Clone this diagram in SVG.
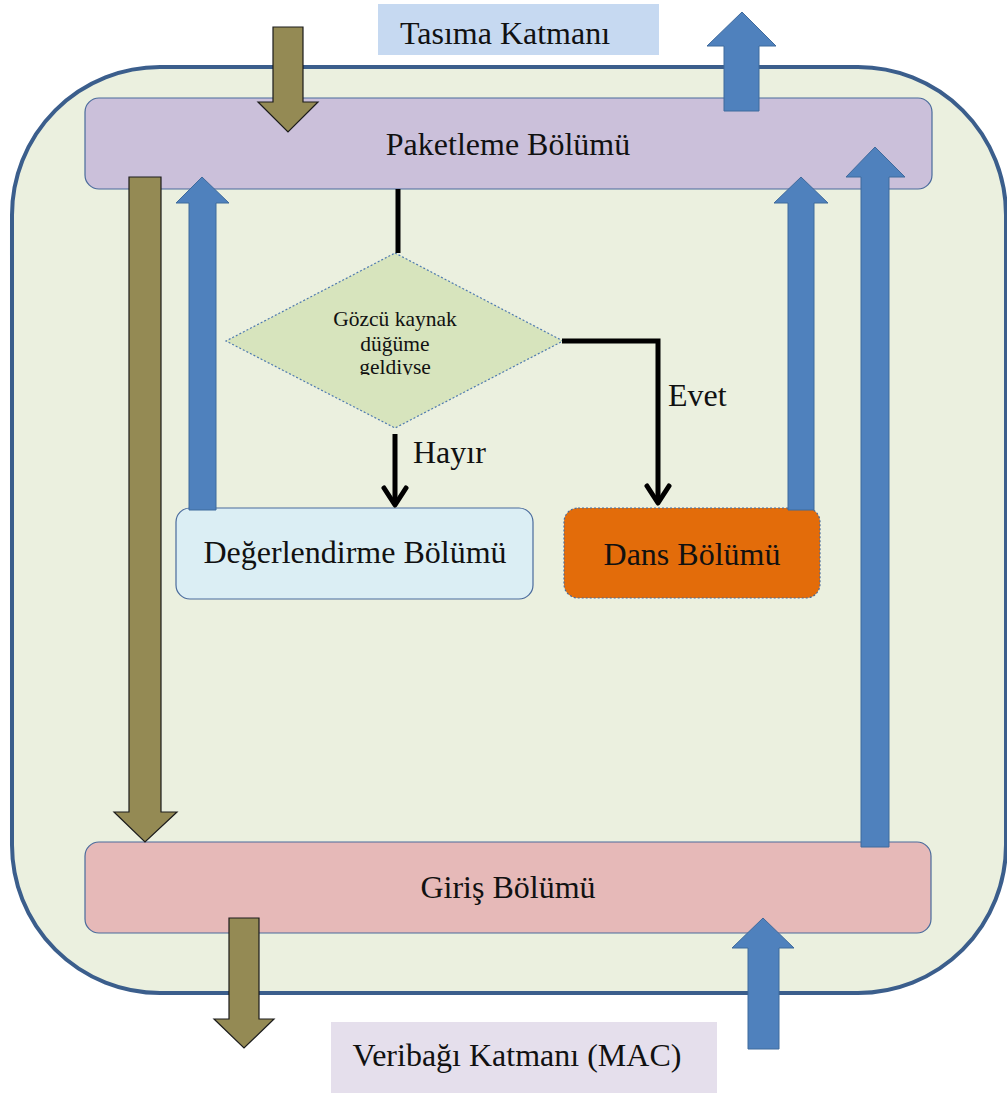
<svg xmlns="http://www.w3.org/2000/svg" width="1007" height="1093" viewBox="0 0 1007 1093">
  <style>
    text { font-family: "Liberation Serif", "Times New Roman", serif; fill: #111; }
    .big { font-size: 32px; }
    .small { font-size: 21.5px; }
    .mid { text-anchor: middle; }
    .brown { fill: #948A54; stroke: #1c1c1c; stroke-width: 1.2; stroke-linejoin: miter; }
    .blue { fill: #4F81BD; stroke: #3F6A9C; stroke-width: 1; }
    .line { fill: none; stroke: #000; stroke-width: 5; stroke-linejoin: miter; }
    .head { fill: none; stroke: #000; stroke-width: 5; stroke-linecap: round; stroke-linejoin: round; }
  </style>
  <defs>
    <clipPath id="diamondText">
      <rect x="300" y="290" width="200" height="85"/>
    </clipPath>
  </defs>

  <rect width="1007" height="1093" fill="#ffffff"/>

  <!-- outer module frame -->
  <g id="module">
    <rect x="12" y="67" width="994" height="926" rx="148" ry="148" fill="#EBF0DF" stroke="#3B5E8C" stroke-width="4"/>
  </g>

  <!-- upper and lower layer labels -->
  <g id="transport-layer">
    <rect x="378" y="4" width="281" height="51" fill="#C6D9F1"/>
    <text class="big mid" x="505" y="44">Tasıma Katmanı</text>
  </g>
  <g id="link-layer">
    <rect x="331" y="1022" width="386" height="71" fill="#E5DFEC"/>
    <text class="big mid" x="517" y="1066">Veribağı Katmanı (MAC)</text>
  </g>

  <!-- sections -->
  <g id="packaging">
    <rect x="85" y="98" width="847" height="91" rx="14" fill="#CBC0DA" stroke="#4A6B9C" stroke-width="1.2"/>
    <text class="big mid" x="508" y="155">Paketleme Bölümü</text>
  </g>
  <g id="input">
    <rect x="85" y="842" width="846" height="91" rx="14" fill="#E6B9B8" stroke="#4A6B9C" stroke-width="1.2"/>
    <text class="big mid" x="508" y="898">Giriş Bölümü</text>
  </g>
  <g id="decision">
    <polygon points="395,253 563,341 395,428 226,341" fill="#D7E4BD" stroke="#4F7AB0" stroke-width="1.2" stroke-dasharray="2,2"/>
    <g clip-path="url(#diamondText)">
      <text class="small mid" x="395" y="326">Gözcü kaynak</text>
      <text class="small mid" x="395" y="351">düğüme</text>
      <text class="small mid" x="395" y="374">geldiyse</text>
    </g>
  </g>
  <g id="evaluation">
    <rect x="176" y="508" width="357" height="91" rx="14" fill="#DBEEF4" stroke="#4A6B9C" stroke-width="1.2"/>
    <text class="big mid" x="355" y="563">Değerlendirme Bölümü</text>
  </g>
  <g id="dance">
    <rect x="564" y="508" width="256" height="90" rx="14" fill="#E36C0A" stroke="#4A6B9C" stroke-width="1.2" stroke-dasharray="2,2"/>
    <text class="big mid" x="692" y="565">Dans Bölümü</text>
  </g>

  <!-- connectors -->
  <g id="connectors">
    <!-- packaging to decision -->
    <line class="line" x1="398" y1="189" x2="398" y2="253"/>
    <!-- decision: yes -->
    <polyline class="line" points="562,341 658,341 658,503"/>
    <polyline class="head" points="647,486 658,503 669,486"/>
    <text class="big" x="668" y="406">Evet</text>
    <!-- decision: no -->
    <line class="line" x1="395" y1="434" x2="395" y2="505"/>
    <polyline class="head" points="384,488 395,505 406,488"/>
    <text class="big" x="413" y="463">Hayır</text>

    <!-- transport layer into packaging -->
    <polygon class="brown" points="273,27 303,27 303,102 318,102 288,132 258,102 273,102"/>
    <!-- packaging up to transport layer -->
    <polygon class="blue" points="724,111 759,111 759,46 776,46 742,12 707,46 724,46"/>
    <!-- packaging down to input -->
    <polygon class="brown" points="129,177 161,177 161,812 177,812 145,842 114,812 129,812"/>
    <!-- evaluation up to packaging -->
    <polygon class="blue" points="189,510 216,510 216,203 229,203 202,177 176,203 189,203"/>
    <!-- dance up to packaging -->
    <polygon class="blue" points="788,510 814,510 814,203 828,203 801,177 774,203 788,203"/>
    <!-- input up to packaging -->
    <polygon class="blue" points="861,847 889,847 889,177 905,177 875,147 846,177 861,177"/>
    <!-- input down to link layer -->
    <polygon class="brown" points="229,918 259,918 259,1019 274,1019 244,1048 214,1019 229,1019"/>
    <!-- link layer up to input -->
    <polygon class="blue" points="748,1049 779,1049 779,948 794,948 763,918 732,948 748,948"/>
  </g>
</svg>
